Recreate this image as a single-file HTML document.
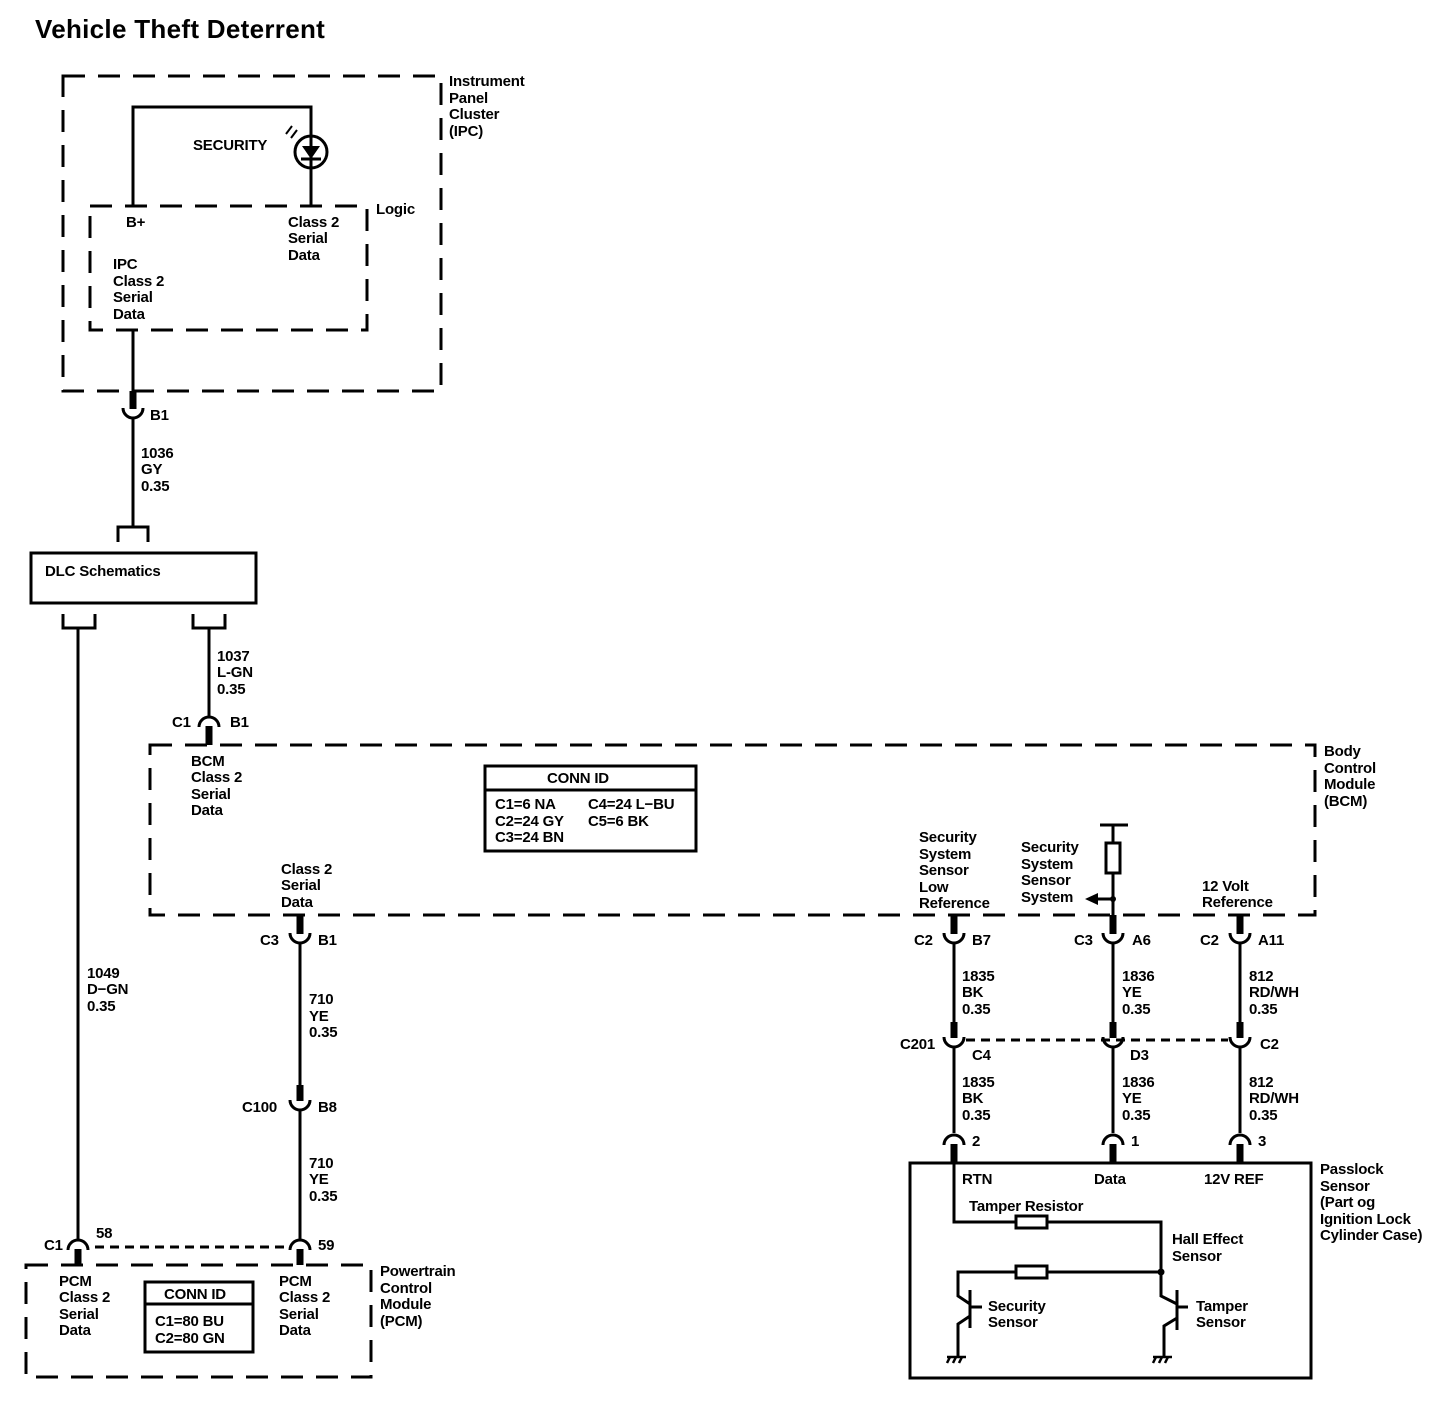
<!DOCTYPE html>
<html><head><meta charset="utf-8"><style>
html,body{margin:0;padding:0;background:#fff}
svg{display:block}
text{font-family:"Liberation Sans",sans-serif;font-weight:bold;font-size:15px;fill:#000;letter-spacing:-0.2px}
</style></head><body>
<svg width="1440" height="1408" viewBox="0 0 1440 1408" xmlns="http://www.w3.org/2000/svg">
<text x="35" y="38" style="font-size:26px;letter-spacing:0.3px">Vehicle Theft Deterrent</text>

<g fill="none" stroke="#000" stroke-width="3">
<rect x="63" y="76" width="378" height="315" stroke-dasharray="22 13"/>
<rect x="90" y="206" width="277" height="124" stroke-dasharray="22 13"/>
<rect x="150" y="745" width="1165" height="170" stroke-dasharray="22 13"/>
<rect x="26" y="1265" width="345" height="112" stroke-dasharray="22 13"/>
<rect x="31" y="553" width="225" height="50"/>
<rect x="485" y="766" width="211" height="85"/>
<line x1="485" y1="790" x2="696" y2="790"/>
<rect x="145" y="1282" width="108" height="70"/>
<line x1="145" y1="1304" x2="253" y2="1304"/>
<rect x="910" y="1163" width="401" height="215"/>

<polyline points="133,206 133,107 311,107 311,206"/>
<circle cx="311" cy="152" r="16" fill="#fff"/>
<line x1="311" y1="136" x2="311" y2="168"/>
<line x1="301" y1="159" x2="321" y2="159"/>
<line x1="291" y1="138" x2="297" y2="130" stroke-width="2"/>
<line x1="286" y1="134" x2="292" y2="126" stroke-width="2"/>

<line x1="133" y1="330" x2="133" y2="391"/>
<line x1="133" y1="418" x2="133" y2="527"/>
<polyline points="118,542 118,527 148,527 148,542"/>
<polyline points="63,614 63,628 95,628 95,614"/>
<polyline points="193,614 193,628 225,628 225,614"/>
<line x1="78" y1="628" x2="78" y2="1240"/>
<line x1="209" y1="628" x2="209" y2="717"/>
<line x1="300" y1="943" x2="300" y2="1090"/>
<line x1="300" y1="1110" x2="300" y2="1240"/>
<line x1="95" y1="1247" x2="288" y2="1247" stroke-dasharray="9 6"/>
<line x1="954" y1="943" x2="954" y2="1027"/>
<line x1="1113" y1="943" x2="1113" y2="1027"/>
<line x1="1240" y1="943" x2="1240" y2="1027"/>
<line x1="954" y1="1047" x2="954" y2="1133"/>
<line x1="1113" y1="1047" x2="1113" y2="1133"/>
<line x1="1240" y1="1047" x2="1240" y2="1133"/>
<line x1="966" y1="1040" x2="1228" y2="1040" stroke-dasharray="9 6"/>

<path d="M123 408 a10 10 0 0 0 20 0"/>
<path d="M199 727 a10 10 0 0 1 20 0"/>
<path d="M290 933 a10 10 0 0 0 20 0"/>
<path d="M290 1100 a10 10 0 0 0 20 0"/>
<path d="M68 1250 a10 10 0 0 1 20 0"/>
<path d="M290 1250 a10 10 0 0 1 20 0"/>
<path d="M944 933 a10 10 0 0 0 20 0"/>
<path d="M1103 933 a10 10 0 0 0 20 0"/>
<path d="M1230 933 a10 10 0 0 0 20 0"/>
<path d="M944 1037 a10 10 0 0 0 20 0"/>
<path d="M1103 1037 a10 10 0 0 0 20 0"/>
<path d="M1230 1037 a10 10 0 0 0 20 0"/>
<path d="M944 1145 a10 10 0 0 1 20 0"/>
<path d="M1103 1145 a10 10 0 0 1 20 0"/>
<path d="M1230 1145 a10 10 0 0 1 20 0"/>

<line x1="1113" y1="825" x2="1113" y2="915"/>
<line x1="1100" y1="825" x2="1128" y2="825"/>
<rect x="1106" y="843" width="14" height="30" fill="#fff"/>
<line x1="1113" y1="899" x2="1096" y2="899"/>

<polyline points="954,1163 954,1222 1161,1222 1161,1272"/>
<rect x="1016" y="1216" width="31" height="12" fill="#fff"/>
<polyline points="1161,1272 958,1272 958,1296 970,1304"/>
<rect x="1016" y="1266" width="31" height="12" fill="#fff"/>
<line x1="970" y1="1290" x2="970" y2="1328"/>
<line x1="970" y1="1307" x2="982" y2="1307"/>
<polyline points="970,1316 958,1324 958,1356"/>
<polyline points="1161,1272 1161,1296 1177,1304"/>
<line x1="1177" y1="1290" x2="1177" y2="1330"/>
<line x1="1177" y1="1307" x2="1188" y2="1307"/>
<polyline points="1177,1318 1164,1326 1164,1356"/>
<g stroke-width="2.5">
<line x1="947" y1="1357" x2="966" y2="1357"/>
<line x1="950" y1="1357" x2="947" y2="1363"/><line x1="956" y1="1357" x2="953" y2="1363"/><line x1="962" y1="1357" x2="959" y2="1363"/>
<line x1="1153" y1="1357" x2="1172" y2="1357"/>
<line x1="1156" y1="1357" x2="1153" y2="1363"/><line x1="1162" y1="1357" x2="1159" y2="1363"/><line x1="1168" y1="1357" x2="1165" y2="1363"/>
</g>
</g>

<g fill="#000">
<polygon points="302,146 320,146 311,159"/>
<rect x="129.5" y="391" width="7" height="18"/>
<rect x="205.5" y="726" width="7" height="19"/>
<rect x="296.5" y="915" width="7" height="19"/>
<rect x="296.5" y="1085" width="7" height="16"/>
<rect x="74.5" y="1249" width="7" height="16"/>
<rect x="296.5" y="1249" width="7" height="16"/>
<rect x="950.5" y="915" width="7" height="19"/>
<rect x="1109.5" y="915" width="7" height="19"/>
<rect x="1236.5" y="915" width="7" height="19"/>
<rect x="950.5" y="1022" width="7" height="16"/>
<rect x="1109.5" y="1022" width="7" height="16"/>
<rect x="1236.5" y="1022" width="7" height="16"/>
<rect x="950.5" y="1144" width="7" height="19"/>
<rect x="1109.5" y="1144" width="7" height="19"/>
<rect x="1236.5" y="1144" width="7" height="19"/>
<polygon points="1085,899 1098,893 1098,905"/>
<circle cx="1113" cy="899" r="3"/>
<circle cx="1161" cy="1272" r="3.5"/>
</g>

<text x="449" y="86">Instrument</text><text x="449" y="103">Panel</text><text x="449" y="119">Cluster</text><text x="449" y="136">(IPC)</text>
<text x="193" y="150">SECURITY</text>
<text x="126" y="227">B+</text>
<text x="288" y="227">Class 2</text><text x="288" y="243">Serial</text><text x="288" y="260">Data</text>
<text x="376" y="214">Logic</text>
<text x="113" y="269">IPC</text><text x="113" y="286">Class 2</text><text x="113" y="302">Serial</text><text x="113" y="319">Data</text>
<text x="150" y="420">B1</text>
<text x="141" y="458">1036</text><text x="141" y="474">GY</text><text x="141" y="491">0.35</text>
<text x="45" y="576">DLC Schematics</text>
<text x="217" y="661">1037</text><text x="217" y="677">L-GN</text><text x="217" y="694">0.35</text>
<text x="172" y="727">C1</text><text x="230" y="727">B1</text>
<text x="191" y="766">BCM</text><text x="191" y="782">Class 2</text><text x="191" y="799">Serial</text><text x="191" y="815">Data</text>
<text x="547" y="783">CONN ID</text>
<text x="495" y="809">C1=6 NA</text><text x="588" y="809">C4=24 L−BU</text>
<text x="495" y="826">C2=24 GY</text><text x="588" y="826">C5=6 BK</text>
<text x="495" y="842">C3=24 BN</text>
<text x="1324" y="756">Body</text><text x="1324" y="773">Control</text><text x="1324" y="789">Module</text><text x="1324" y="806">(BCM)</text>
<text x="281" y="874">Class 2</text><text x="281" y="890">Serial</text><text x="281" y="907">Data</text>
<text x="919" y="842">Security</text><text x="919" y="859">System</text><text x="919" y="875">Sensor</text><text x="919" y="892">Low</text><text x="919" y="908">Reference</text>
<text x="1021" y="852">Security</text><text x="1021" y="869">System</text><text x="1021" y="885">Sensor</text><text x="1021" y="902">System</text>
<text x="1202" y="891">12 Volt</text><text x="1202" y="907">Reference</text>
<text x="260" y="945">C3</text><text x="318" y="945">B1</text>
<text x="914" y="945">C2</text><text x="972" y="945">B7</text>
<text x="1074" y="945">C3</text><text x="1132" y="945">A6</text>
<text x="1200" y="945">C2</text><text x="1258" y="945">A11</text>
<text x="87" y="978">1049</text><text x="87" y="994">D−GN</text><text x="87" y="1011">0.35</text>
<text x="309" y="1004">710</text><text x="309" y="1021">YE</text><text x="309" y="1037">0.35</text>
<text x="962" y="981">1835</text><text x="962" y="997">BK</text><text x="962" y="1014">0.35</text>
<text x="1122" y="981">1836</text><text x="1122" y="997">YE</text><text x="1122" y="1014">0.35</text>
<text x="1249" y="981">812</text><text x="1249" y="997">RD/WH</text><text x="1249" y="1014">0.35</text>
<text x="900" y="1049">C201</text><text x="972" y="1060">C4</text><text x="1130" y="1060">D3</text><text x="1260" y="1049">C2</text>
<text x="962" y="1087">1835</text><text x="962" y="1103">BK</text><text x="962" y="1120">0.35</text>
<text x="1122" y="1087">1836</text><text x="1122" y="1103">YE</text><text x="1122" y="1120">0.35</text>
<text x="1249" y="1087">812</text><text x="1249" y="1103">RD/WH</text><text x="1249" y="1120">0.35</text>
<text x="242" y="1112">C100</text><text x="318" y="1112">B8</text>
<text x="309" y="1168">710</text><text x="309" y="1184">YE</text><text x="309" y="1201">0.35</text>
<text x="972" y="1146">2</text><text x="1131" y="1146">1</text><text x="1258" y="1146">3</text>
<text x="1320" y="1174">Passlock</text><text x="1320" y="1191">Sensor</text><text x="1320" y="1207">(Part og</text><text x="1320" y="1224">Ignition Lock</text><text x="1320" y="1240">Cylinder Case)</text>
<text x="962" y="1184">RTN</text><text x="1094" y="1184">Data</text><text x="1204" y="1184">12V REF</text>
<text x="969" y="1211">Tamper Resistor</text>
<text x="1172" y="1244">Hall Effect</text><text x="1172" y="1261">Sensor</text>
<text x="988" y="1311">Security</text><text x="988" y="1327">Sensor</text>
<text x="1196" y="1311">Tamper</text><text x="1196" y="1327">Sensor</text>
<text x="44" y="1250">C1</text><text x="96" y="1238">58</text><text x="318" y="1250">59</text>
<text x="59" y="1286">PCM</text><text x="59" y="1302">Class 2</text><text x="59" y="1319">Serial</text><text x="59" y="1335">Data</text>
<text x="279" y="1286">PCM</text><text x="279" y="1302">Class 2</text><text x="279" y="1319">Serial</text><text x="279" y="1335">Data</text>
<text x="164" y="1299">CONN ID</text>
<text x="155" y="1326">C1=80 BU</text><text x="155" y="1343">C2=80 GN</text>
<text x="380" y="1276">Powertrain</text><text x="380" y="1293">Control</text><text x="380" y="1309">Module</text><text x="380" y="1326">(PCM)</text>
</svg>
</body></html>
